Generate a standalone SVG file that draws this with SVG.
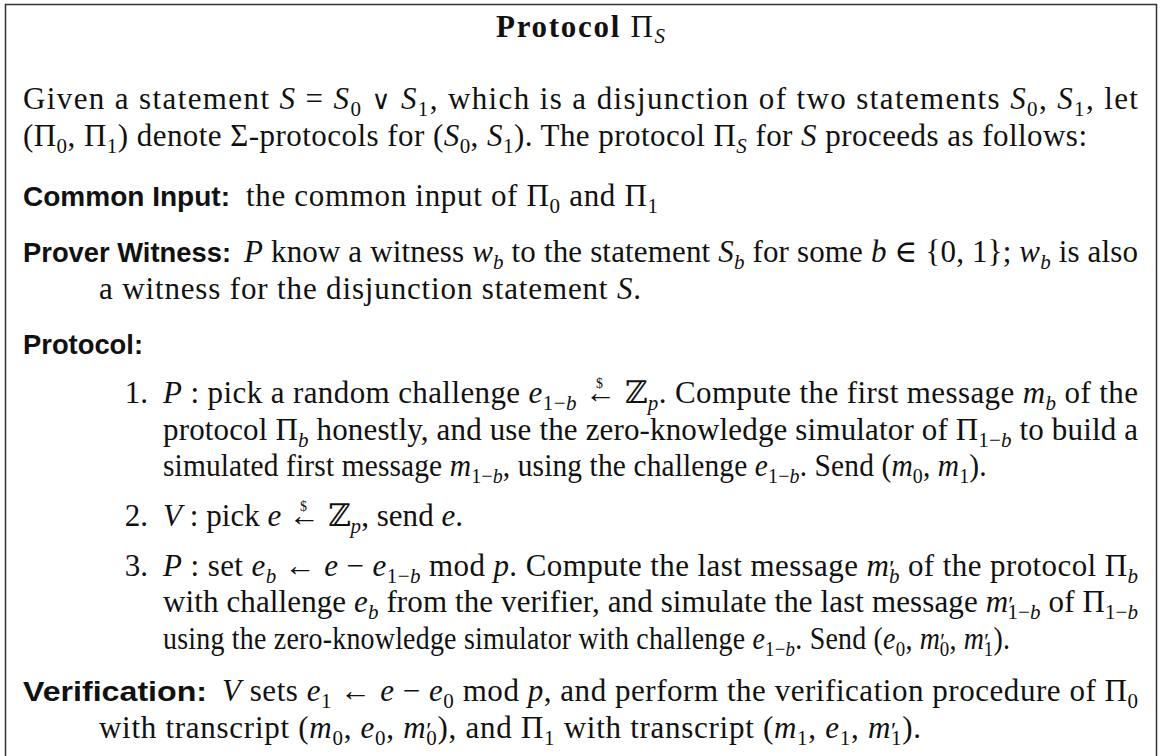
<svg xmlns="http://www.w3.org/2000/svg" width="1160" height="756" viewBox="0 0 1160 756">
<style>
text { font-family: "Liberation Serif", "DejaVu Serif", serif; font-size: 31px; fill: #111; }
.i { font-style: italic; }
.sb { font-size: 21px; }
.pr { font-size: 24px; }
.dl { font-size: 14px; }
.op { font-size: 26px; }
.lab { font-family: "Liberation Sans", "DejaVu Sans", sans-serif; font-weight: bold; font-size: 28px; }
.ttl { font-weight: bold; }
.frame { fill: none; stroke: #333; stroke-width: 1.5; }
</style>
<rect x="0" y="0" width="1160" height="756" fill="#fff"/>
<path class="frame" d="M5.5 770 V4.5 H1156.5 V770"/>

<g id="title">
<text x="496" y="37" textLength="169" lengthAdjust="spacing"><tspan class="ttl">Protocol </tspan><tspan>Π</tspan><tspan class="i sb" dy="6">S</tspan></text>
</g>

<g id="intro">
<text x="23" y="109" textLength="1115" lengthAdjust="spacing">Given a statement <tspan class="i">S</tspan> = <tspan class="i">S</tspan><tspan class="sb" dy="7">0</tspan><tspan dy="-7"> </tspan><tspan class="op">∨</tspan><tspan> </tspan><tspan class="i">S</tspan><tspan class="sb" dy="7">1</tspan><tspan dy="-7">, which is a disjunction of two statements </tspan><tspan class="i">S</tspan><tspan class="sb" dy="7">0</tspan><tspan dy="-7">, </tspan><tspan class="i">S</tspan><tspan class="sb" dy="7">1</tspan><tspan dy="-7">, let</tspan></text>
<text x="23" y="146" textLength="1064" lengthAdjust="spacing">(Π<tspan class="sb" dy="7">0</tspan><tspan dy="-7">, Π</tspan><tspan class="sb" dy="7">1</tspan><tspan dy="-7">) denote Σ-protocols for (</tspan><tspan class="i">S</tspan><tspan class="sb" dy="7">0</tspan><tspan dy="-7">, </tspan><tspan class="i">S</tspan><tspan class="sb" dy="7">1</tspan><tspan dy="-7">). The protocol Π</tspan><tspan class="i sb" dy="7">S</tspan><tspan dy="-7"> for </tspan><tspan class="i">S</tspan><tspan> proceeds as follows:</tspan></text>
</g>

<g id="common-input">
<text class="lab" x="23" y="206" textLength="207" lengthAdjust="spacingAndGlyphs">Common Input:</text>
<text x="246" y="206" textLength="412" lengthAdjust="spacing">the common input of Π<tspan class="sb" dy="7">0</tspan><tspan dy="-7"> and Π</tspan><tspan class="sb" dy="7">1</tspan></text>
</g>

<g id="prover-witness">
<text class="lab" x="23" y="262" textLength="208" lengthAdjust="spacingAndGlyphs">Prover Witness:</text>
<text x="244" y="262" textLength="894" lengthAdjust="spacing"><tspan class="i">P</tspan> know a witness <tspan class="i">w</tspan><tspan class="i sb" dy="7">b</tspan><tspan dy="-7"> to the statement </tspan><tspan class="i">S</tspan><tspan class="i sb" dy="7">b</tspan><tspan dy="-7"> for some </tspan><tspan class="i">b</tspan><tspan> ∈ {0, 1}; </tspan><tspan class="i">w</tspan><tspan class="i sb" dy="7">b</tspan><tspan dy="-7"> is also</tspan></text>
<text x="99" y="299" textLength="542" lengthAdjust="spacing">a witness for the disjunction statement <tspan class="i">S</tspan>.</text>
</g>

<g id="protocol">
<text class="lab" x="23" y="354" textLength="120" lengthAdjust="spacingAndGlyphs">Protocol:</text>

<text x="148" y="403" text-anchor="end">1.</text>
<text x="163" y="403" textLength="975" lengthAdjust="spacing"><tspan class="i">P</tspan> : pick a random challenge <tspan class="i">e</tspan><tspan class="sb" dy="7">1−<tspan class="i">b</tspan></tspan><tspan dy="-7"> </tspan><tspan class="dl" dx="11" dy="-15">$</tspan><tspan dx="-18" dy="15">←</tspan><tspan> ℤ</tspan><tspan class="i sb" dy="7">p</tspan><tspan dy="-7">. Compute the first message </tspan><tspan class="i">m</tspan><tspan class="i sb" dy="7">b</tspan><tspan dy="-7"> of the</tspan></text>
<text x="163" y="440" textLength="975" lengthAdjust="spacing">protocol Π<tspan class="i sb" dy="7">b</tspan><tspan dy="-7"> honestly, and use the zero-knowledge simulator of Π</tspan><tspan class="sb" dy="7">1−<tspan class="i">b</tspan></tspan><tspan dy="-7"> to build a</tspan></text>
<text transform="translate(163 476) scale(0.95 1)" x="0" y="0" textLength="867" lengthAdjust="spacing">simulated first message <tspan class="i">m</tspan><tspan class="sb" dy="7">1−<tspan class="i">b</tspan></tspan><tspan dy="-7">, using the challenge </tspan><tspan class="i">e</tspan><tspan class="sb" dy="7">1−<tspan class="i">b</tspan></tspan><tspan dy="-7">. Send (</tspan><tspan class="i">m</tspan><tspan class="sb" dy="7">0</tspan><tspan dy="-7">, </tspan><tspan class="i">m</tspan><tspan class="sb" dy="7">1</tspan><tspan dy="-7">).</tspan></text>

<text x="148" y="526" text-anchor="end">2.</text>
<text x="163" y="526" textLength="300" lengthAdjust="spacing"><tspan class="i">V</tspan> : pick <tspan class="i">e</tspan><tspan> </tspan><tspan class="dl" dx="11" dy="-15">$</tspan><tspan dx="-18" dy="15">←</tspan><tspan> ℤ</tspan><tspan class="i sb" dy="7">p</tspan><tspan dy="-7">, send </tspan><tspan class="i">e</tspan><tspan>.</tspan></text>

<text x="148" y="576" text-anchor="end">3.</text>
<text x="163" y="576" textLength="975" lengthAdjust="spacing"><tspan class="i">P</tspan> : set <tspan class="i">e</tspan><tspan class="i sb" dy="7">b</tspan><tspan dy="-7"> ← </tspan><tspan class="i">e</tspan><tspan> − </tspan><tspan class="i">e</tspan><tspan class="sb" dy="7">1−<tspan class="i">b</tspan></tspan><tspan dy="-7"> mod </tspan><tspan class="i">p</tspan><tspan>. Compute the last message </tspan><tspan class="i">m</tspan><tspan class="pr">′</tspan><tspan class="i sb" dx="-6" dy="7">b</tspan><tspan dy="-7"> of the protocol Π</tspan><tspan class="i sb" dy="7">b</tspan></text>
<text x="163" y="612" textLength="975" lengthAdjust="spacing">with challenge <tspan class="i">e</tspan><tspan class="i sb" dy="7">b</tspan><tspan dy="-7"> from the verifier, and simulate the last message </tspan><tspan class="i">m</tspan><tspan class="pr">′</tspan><tspan class="sb" dx="-6" dy="7">1−<tspan class="i">b</tspan></tspan><tspan dy="-7"> of Π</tspan><tspan class="sb" dy="7">1−<tspan class="i">b</tspan></tspan></text>
<text transform="translate(163 649) scale(0.9 1)" x="0" y="0" textLength="941" lengthAdjust="spacing">using the zero-knowledge simulator with challenge <tspan class="i">e</tspan><tspan class="sb" dy="7">1−<tspan class="i">b</tspan></tspan><tspan dy="-7">. Send (</tspan><tspan class="i">e</tspan><tspan class="sb" dy="7">0</tspan><tspan dy="-7">, </tspan><tspan class="i">m</tspan><tspan class="pr">′</tspan><tspan class="sb" dx="-6" dy="7">0</tspan><tspan dy="-7">, </tspan><tspan class="i">m</tspan><tspan class="pr">′</tspan><tspan class="sb" dx="-6" dy="7">1</tspan><tspan dy="-7">).</tspan></text>
</g>

<g id="verification">
<text class="lab" x="23" y="701" textLength="184" lengthAdjust="spacingAndGlyphs">Verification:</text>
<text x="222" y="701" textLength="916" lengthAdjust="spacing"><tspan class="i">V</tspan> sets <tspan class="i">e</tspan><tspan class="sb" dy="7">1</tspan><tspan dy="-7"> ← </tspan><tspan class="i">e</tspan><tspan> − </tspan><tspan class="i">e</tspan><tspan class="sb" dy="7">0</tspan><tspan dy="-7"> mod </tspan><tspan class="i">p</tspan><tspan>, and perform the verification procedure of Π</tspan><tspan class="sb" dy="7">0</tspan></text>
<text x="99" y="738" textLength="822" lengthAdjust="spacing">with transcript (<tspan class="i">m</tspan><tspan class="sb" dy="7">0</tspan><tspan dy="-7">, </tspan><tspan class="i">e</tspan><tspan class="sb" dy="7">0</tspan><tspan dy="-7">, </tspan><tspan class="i">m</tspan><tspan class="pr">′</tspan><tspan class="sb" dx="-6" dy="7">0</tspan><tspan dy="-7">), and Π</tspan><tspan class="sb" dy="7">1</tspan><tspan dy="-7"> with transcript (</tspan><tspan class="i">m</tspan><tspan class="sb" dy="7">1</tspan><tspan dy="-7">, </tspan><tspan class="i">e</tspan><tspan class="sb" dy="7">1</tspan><tspan dy="-7">, </tspan><tspan class="i">m</tspan><tspan class="pr">′</tspan><tspan class="sb" dx="-6" dy="7">1</tspan><tspan dy="-7">).</tspan></text>
</g>
</svg>
